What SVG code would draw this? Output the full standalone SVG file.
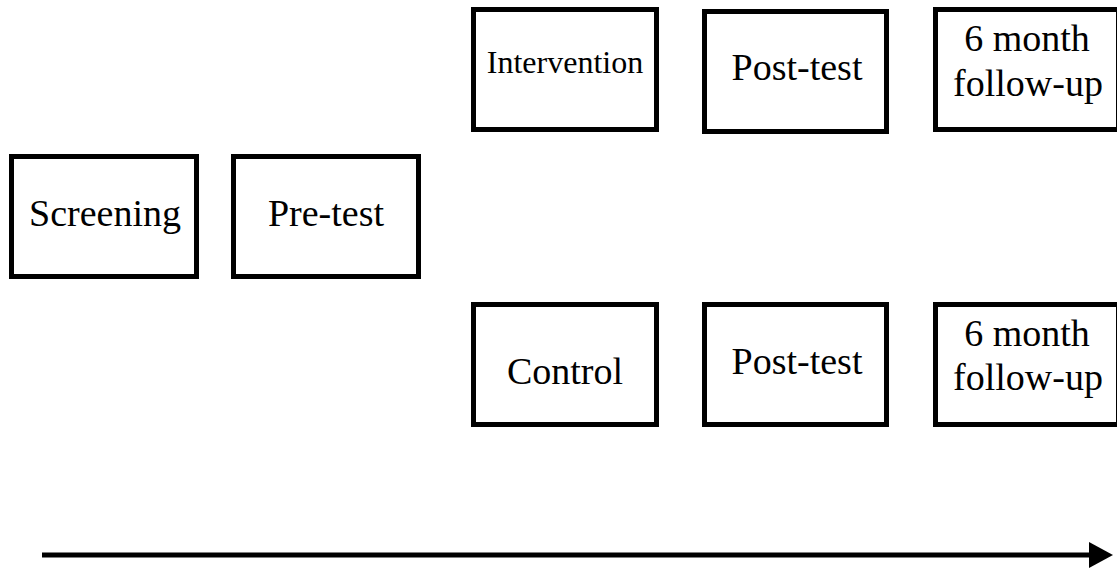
<svg xmlns="http://www.w3.org/2000/svg" width="1117" height="568" viewBox="0 0 1117 568">
<style>
.box{fill:#fff;stroke:#000;stroke-width:5}
.t{font-family:"Liberation Serif","Times New Roman",serif;font-size:38px;fill:#000;text-anchor:middle}
.s{font-size:32px}
.conn{stroke:#000;stroke-width:5;fill:none}
</style>
<rect width="1117" height="568" fill="#fff"/>
<g id="screening"><rect class="box" x="11.5" y="156.5" width="185" height="120"/><text class="t" x="105" y="226">Screening</text></g>
<g id="pretest"><rect class="box" x="233.5" y="156.5" width="185" height="120"/><text class="t" x="326" y="226">Pre-test</text></g>
<g id="intervention"><rect class="box" x="473.5" y="9.5" width="183" height="120"/><text class="t s" x="565" y="73">Intervention</text></g>
<g id="posttest1"><rect class="box" x="704.5" y="11.5" width="182" height="120"/><text class="t" x="797" y="80">Post-test</text></g>
<g id="followup1"><rect class="box" x="935.5" y="9.5" width="183" height="120"/><text class="t" x="1027" y="51">6 month</text><text class="t" x="1028" y="96">follow-up</text></g>
<g id="control"><rect class="box" x="473.5" y="304.5" width="183" height="120"/><text class="t" x="565" y="384">Control</text></g>
<g id="posttest2"><rect class="box" x="704.5" y="304.5" width="182" height="120"/><text class="t" x="797" y="374">Post-test</text></g>
<g id="followup2"><rect class="box" x="935.5" y="304.5" width="183" height="120"/><text class="t" x="1027" y="346">6 month</text><text class="t" x="1028" y="390">follow-up</text></g>
<g id="connectors">
<line class="conn" x1="42" y1="555" x2="1092" y2="555"/>
<polygon points="1089,542 1113,555 1089,568" fill="#000"/>
</g>
</svg>
